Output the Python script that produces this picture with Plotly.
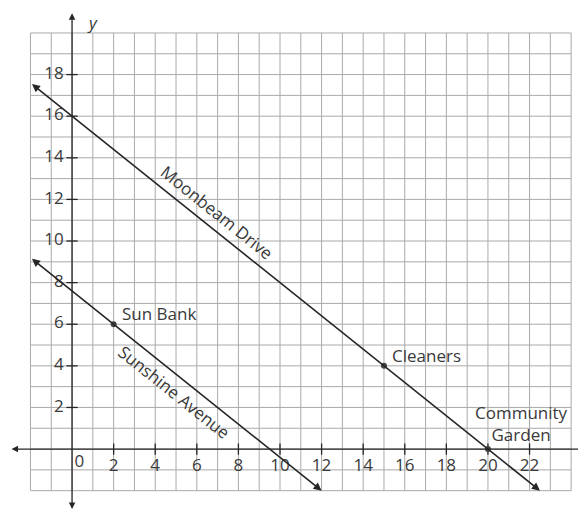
import plotly.graph_objects as go
import math

# ---- data ----
road_names = ["Moonbeam Drive", "Sunshine Avenue"]
road_slopes = [-0.8, -0.8]
road_intercepts = [16, 7.6]
road_x_start = [-2, -2]
road_x_end = [22.5, 12]

place_names = ["Sun Bank", "Cleaners", "Community<br>Garden"]
place_x = [2, 15, 20]
place_y = [6, 4, 0]

x_ticks = [2, 4, 6, 8, 10, 12, 14, 16, 18, 20, 22]
y_ticks = [2, 4, 6, 8, 10, 12, 14, 16, 18]
grid_x = list(range(-2, 25))
grid_y = list(range(-2, 21))

FONT = "Open Sans"
TXT = "#3a3a3a"
LINE = "#262626"
FS = 17

fig = go.Figure()

# grid
gx, gy = [], []
for v in grid_x:
    gx += [v, v, None]; gy += [grid_y[0], grid_y[-1], None]
for h in grid_y:
    gx += [grid_x[0], grid_x[-1], None]; gy += [h, h, None]
fig.add_trace(go.Scatter(x=gx, y=gy, mode="lines", line=dict(color="#aaaaaa", width=1),
                         hoverinfo="skip", showlegend=False))

# tick marks
tx, ty = [], []
for v in x_ticks:
    tx += [v, v, None]; ty += [-0.27, 0.27, None]
for v in y_ticks:
    tx += [-0.27, 0.27, None]; ty += [v, v, None]
fig.add_trace(go.Scatter(x=tx, y=ty, mode="lines", line=dict(color=LINE, width=1.3),
                         hoverinfo="skip", showlegend=False))

# tick labels
fig.add_trace(go.Scatter(x=x_ticks, y=[-0.85] * len(x_ticks), mode="text",
                         text=[str(v) for v in x_ticks], textposition="middle center",
                         textfont=dict(family=FONT, size=FS, color=TXT),
                         hoverinfo="skip", showlegend=False))
fig.add_trace(go.Scatter(x=[-0.4] * len(y_ticks), y=y_ticks, mode="text",
                         text=[str(v) for v in y_ticks], textposition="middle left",
                         textfont=dict(family=FONT, size=FS, color=TXT),
                         hoverinfo="skip", showlegend=False))
fig.add_trace(go.Scatter(x=[0.35], y=[-0.65], mode="text", text=["0"],
                         textposition="middle center",
                         textfont=dict(family=FONT, size=FS, color=TXT),
                         hoverinfo="skip", showlegend=False))

# axes with arrows
ann = []
ann.append(dict(x=25.3, y=0, ax=-2.98, ay=0, xref="x", yref="y", axref="x", ayref="y",
                text="", showarrow=True, arrowhead=2, arrowside="end+start",
                arrowsize=1, arrowwidth=1.3, arrowcolor=LINE))
ann.append(dict(x=0, y=20.95, ax=0, ay=-2.95, xref="x", yref="y", axref="x", ayref="y",
                text="", showarrow=True, arrowhead=2, arrowside="end+start",
                arrowsize=1, arrowwidth=1.3, arrowcolor=LINE))
ann.append(dict(x=1.0, y=20.5, xref="x", yref="y", text="<i>y</i>", showarrow=False,
                font=dict(family=FONT, size=FS, color=TXT)))

# roads
angle = math.degrees(math.atan(0.8))
label_pos = [(6.97, 11.35), (4.95, 2.74)]
for name, m, b, x0, x1, (lx, ly) in zip(road_names, road_slopes, road_intercepts,
                                        road_x_start, road_x_end, label_pos):
    ann.append(dict(x=x1, y=m * x1 + b, ax=x0, ay=m * x0 + b, xref="x", yref="y",
                    axref="x", ayref="y", text="", showarrow=True, arrowhead=2,
                    arrowside="end+start", arrowsize=1, arrowwidth=1.6, arrowcolor=LINE))
    ann.append(dict(x=lx, y=ly, xref="x", yref="y", text=name, showarrow=False,
                    textangle=angle, font=dict(family=FONT, size=FS, color=TXT)))

# places
fig.add_trace(go.Scatter(x=place_x, y=place_y, mode="markers",
                         marker=dict(color="#444444", size=6),
                         hoverinfo="skip", showlegend=False))
place_label_pos = [(2.3, 6.5, "left"), (15.3, 4.5, "left"), (21.6, 1.25, "center")]
for name, (lx, ly, al) in zip(place_names, place_label_pos):
    ann.append(dict(x=lx, y=ly, xref="x", yref="y", text=name, showarrow=False,
                    xanchor=al, align="center",
                    font=dict(family=FONT, size=FS, color=TXT)))

fig.update_layout(
    width=586, height=512,
    margin=dict(l=0, r=0, t=0, b=0),
    paper_bgcolor="white", plot_bgcolor="white",
    xaxis=dict(range=[-3.08, 25.1], visible=False, fixedrange=True),
    yaxis=dict(range=[-3.41, 21.2], visible=False, fixedrange=True),
    annotations=ann,
    showlegend=False,
)

fig.write_html("out.html")
